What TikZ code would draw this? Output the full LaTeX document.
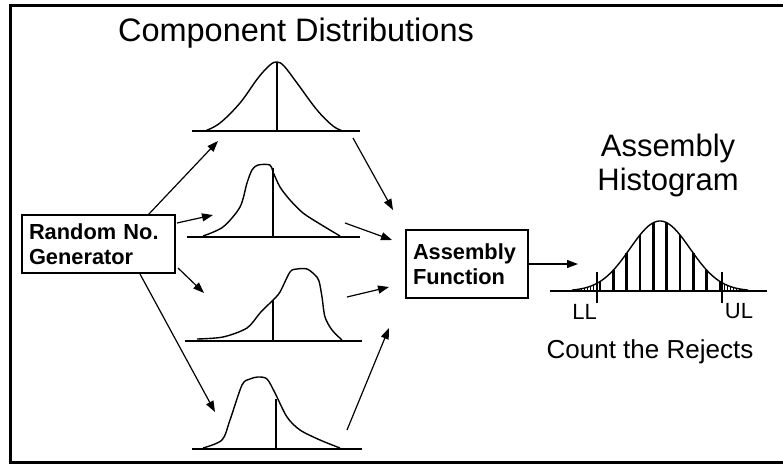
\documentclass[tikz,border=0pt]{standalone}
\usepackage{fontspec}
\setmainfont{Liberation Sans}
\usetikzlibrary{arrows.meta}
\begin{document}
\begin{tikzpicture}[x=1pt,y=-1pt,
  curve/.style={line width=1.4pt,line join=round},
  axisline/.style={line width=1.5pt},
  conn/.style={-{Triangle[length=11pt,width=8pt]},line width=1.2pt},
  box/.style={draw,line width=1.4pt,align=left,inner xsep=7pt,
              font=\fontsize{21.8}{25}\selectfont\bfseries},
  bigtitle/.style={anchor=base,font=\fontsize{32.5}{36}\selectfont},
  histtitle/.style={anchor=base,font=\fontsize{31}{34}\selectfont},
  lbl/.style={anchor=base,font=\fontsize{22}{24}\selectfont},
  hatch/.style={line width=2.4pt},
  finehatch/.style={line width=0.9pt}]
\useasboundingbox (0,0) rectangle (783,468);
% frame
\draw[line width=3pt] (790,6) -- (10,6) -- (10,462) -- (790,462);

% titles
\node[bigtitle] (t1) at (296,42) {Component Distributions};
\node[histtitle] (ah1) at (668,156) {Assembly};
\node[histtitle] (ah2) at (668,190) {Histogram};
\node[anchor=base,font=\fontsize{26}{28}\selectfont] (cr) at (650,358) {Count the Rejects};

% boxes
\node[box,minimum width=153pt,minimum height=58pt,text width=139pt] (rng) at (98.5,244) {Random No.\\Generator};
\node[box,minimum width=122pt,minimum height=68pt,text width=108pt] (af) at (467,264) {Assembly\\Function};

% component distribution 1
\draw[axisline] (192,131) -- (360,131);
\draw[curve] plot[smooth,tension=0.6] coordinates {(205,131) (220,123) (240,103) (258,78) (270,65) (277,62) (284,66) (297,83) (317,110) (333,126) (343,131)};
\draw[axisline] (277,62) -- (277,131);

% component distribution 2
\draw[axisline] (187,237) -- (360,237);
\draw[curve] plot[smooth,tension=0.5] coordinates {(203,236) (223,227) (240,207) (247,183) (252,170) (258,165) (270,165) (273,172) (280,187) (290,200) (303,213) (320,224) (340,236)};
\draw[axisline] (273,168) -- (273,237);

% component distribution 3
\draw[axisline] (185,341) -- (362,341);
\draw[curve] plot[smooth,tension=0.5] coordinates {(197,339) (223,337) (247,328) (260,313) (273,300) (280,292) (290,272) (297,269) (307,269) (315,275) (319,281) (322,297) (325,317) (332,330) (342,340)};
\draw[axisline] (273,300) -- (273,341);

% component distribution 4
\draw[axisline] (192,449) -- (362,449);
\draw[curve] plot[smooth,tension=0.5] coordinates {(203,448) (222,440) (230,420) (242,385) (250,379) (258,377) (267,379) (275,393) (287,417) (300,430) (320,440) (340,448)};
\draw[axisline] (276,399) -- (276,449);

% arrows from generator
\coordinate (a1s) at (148,215); \coordinate (a1e) at (218,141);
\coordinate (a2s) at (177,223); \coordinate (a2e) at (213,215);
\coordinate (a3s) at (178,268); \coordinate (a3e) at (204,293);
\coordinate (a4s) at (140,274); \coordinate (a4e) at (215,412);
\draw[conn] (a1s) -- (a1e);
\draw[conn] (a2s) -- (a2e);
\draw[conn] (a3s) -- (a3e);
\draw[conn] (a4s) -- (a4e);

% arrows to assembly function
\coordinate (b1s) at (353,138); \coordinate (b1e) at (393,210);
\coordinate (b2s) at (345,223); \coordinate (b2e) at (392,240);
\coordinate (b3s) at (347,297); \coordinate (b3e) at (389,287);
\coordinate (b4s) at (347,430); \coordinate (b4e) at (389,328);
\draw[conn] (b1s) -- (b1e);
\draw[conn] (b2s) -- (b2e);
\draw[conn] (b3s) -- (b3e);
\draw[conn] (b4s) -- (b4e);

% arrow to histogram
\coordinate (hs) at (578,264);
\draw[conn] (af.east) -- (hs);

% histogram
\draw[axisline] (550,291) -- (767,291);
\foreach \i in {0,...,9} {
  \pgfmathsetmacro\xx{600+\i*13.333}
  \draw[hatch] (\xx,291) -- (\xx,{291-70*exp(-((\xx-660)^2)/1800)});
}
\foreach \xx in {575,578,...,596} {
  \draw[finehatch] (\xx,291) -- (\xx,{291-70*exp(-((\xx-660)^2)/1800)});
}
\foreach \xx in {724,727,...,746} {
  \draw[finehatch] (\xx,291) -- (\xx,{291-70*exp(-((\xx-660)^2)/1800)});
}
\draw[curve] plot[domain=572:748,samples=80,smooth] (\x,{291-70*exp(-((\x-660)^2)/1800)});
\draw[line width=1.2pt] (597,272) -- (597,303);
\draw[line width=1.2pt] (722,272) -- (722,303);
\node[lbl] (ll) at (584.5,319) {LL};
\node[lbl] (ul) at (739,318) {UL};
\end{tikzpicture}
\end{document}
